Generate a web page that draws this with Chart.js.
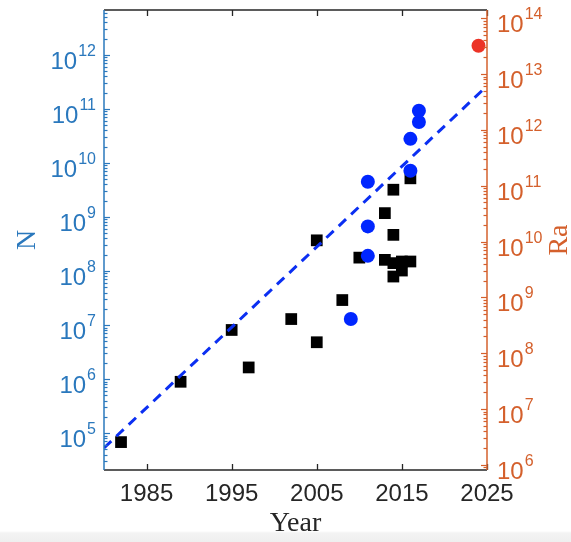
<!DOCTYPE html>
<html>
<head>
<meta charset="utf-8">
<script src="https://cdn.jsdelivr.net/npm/chart.js@4.4.1/dist/chart.umd.min.js"></script>
<style>
  html, body { margin: 0; padding: 0; }
  body { width: 571px; height: 542px; overflow: hidden;
         background: linear-gradient(to bottom, #ffffff 0px, #ffffff 531px, #f3f3f3 533px, #efefef 542px); }
  #wrap { width: 571px; height: 542px; }
</style>
</head>
<body>
<div id="wrap"><canvas id="myChart" width="571" height="542"></canvas></div>
<script>
// black squares (N, left axis)
var squareYears = [1982, 1989, 1995, 1997, 2002, 2005, 2005, 2008, 2010, 2013, 2013, 2014, 2014, 2014, 2014, 2015, 2015, 2016, 2016];
var squareN     = [6.8e4, 8.9e5, 8.1e6, 1.64e6, 1.29e7, 4.8e6, 3.7e8, 2.9e7, 1.77e8, 1.61e8, 1.18e9, 1.40e8, 7.9e7, 4.67e8, 3.2e9, 1.50e8, 1.02e8, 1.50e8, 5.2e9];

// blue circles (N, left axis)
var circleYears = [2009, 2011, 2011, 2011, 2016, 2016, 2017, 2017];
var circleN     = [1.29e7, 1.91e8, 6.7e8, 4.5e9, 7.2e9, 2.8e10, 5.75e10, 9.3e10];

// red circle (Ra, right axis)
var redYears = [2024];
var redRa    = [3.2e13];

// dashed trend line
var fitYears = [1980, 2025];
var fitN     = [5.3e4, 2.67e11];

// tick labels
var yearTicks = [1985, 1995, 2005, 2015, 2025];
var leftExps  = [5, 6, 7, 8, 9, 10, 11, 12];
var rightExps = [6, 7, 8, 9, 10, 11, 12, 13, 14];

var blue = '#2a78bd';
var orange = '#d4602c';
var dark = '#262626';

function pts(xs, ys) {
    return xs.map(function (x, i) { return { x: x, y: ys[i] }; });
}

function drawLogTicks(ctx, scale, x, dir) {
    var lo = Math.floor(Math.log10(scale.min));
    var hi = Math.ceil(Math.log10(scale.max));
    for (var e = lo; e <= hi; e++) {
        for (var k = 1; k <= 9; k++) {
            var v = k * Math.pow(10, e);
            if (v < scale.min || v > scale.max) continue;
            var y = Math.round(scale.getPixelForValue(v)) + 0.5;
            var len = k === 1 ? 6 : 3.5;
            ctx.beginPath();
            ctx.moveTo(x, y);
            ctx.lineTo(x + dir * len, y);
            ctx.stroke();
        }
    }
}

function drawExpLabel(ctx, e, x, y, side) {
    var baseFont = '24px "Liberation Sans", Arial, sans-serif';
    var supFont = '16px "Liberation Sans", Arial, sans-serif';
    ctx.font = baseFont;
    var wb = ctx.measureText('10').width;
    ctx.font = supFont;
    var ws = ctx.measureText(String(e)).width;
    var x0 = side === 'left' ? x - ws - wb - 1 : x;
    ctx.textAlign = 'left';
    ctx.textBaseline = 'alphabetic';
    ctx.font = baseFont;
    ctx.fillText('10', x0, y + 14);
    ctx.font = supFont;
    ctx.fillText(String(e), x0 + wb + 1, y + 1);
}

// matlab style box, inward ticks and 10^n labels
var axesPlugin = {
    id: 'matlabAxes',
    afterDraw: function (chart) {
        var ctx = chart.ctx;
        var a = chart.chartArea;
        var sx = chart.scales.x, sy = chart.scales.y, sy2 = chart.scales.y2;
        ctx.save();

        // top / bottom lines and year ticks
        ctx.strokeStyle = dark;
        ctx.lineWidth = 1.3;
        ctx.beginPath();
        ctx.moveTo(a.left, a.bottom); ctx.lineTo(a.right, a.bottom);
        ctx.moveTo(a.left, a.top); ctx.lineTo(a.right, a.top);
        ctx.stroke();
        yearTicks.forEach(function (yr) {
            var px = Math.round(sx.getPixelForValue(yr)) + 0.5;
            ctx.beginPath();
            ctx.moveTo(px, a.bottom); ctx.lineTo(px, a.bottom - 6);
            ctx.moveTo(px, a.top); ctx.lineTo(px, a.top + 6);
            ctx.stroke();
        });

        // left axis
        ctx.strokeStyle = blue;
        ctx.fillStyle = blue;
        ctx.lineWidth = 1.5;
        ctx.beginPath();
        ctx.moveTo(a.left, a.top); ctx.lineTo(a.left, a.bottom);
        ctx.stroke();
        ctx.lineWidth = 1.2;
        drawLogTicks(ctx, sy, a.left, 1);
        leftExps.forEach(function (e) {
            drawExpLabel(ctx, e, a.left - 8, sy.getPixelForValue(Math.pow(10, e)), 'left');
        });

        // right axis
        ctx.strokeStyle = orange;
        ctx.fillStyle = orange;
        ctx.lineWidth = 1.5;
        ctx.beginPath();
        ctx.moveTo(a.right, a.top); ctx.lineTo(a.right, a.bottom);
        ctx.stroke();
        ctx.lineWidth = 1.2;
        drawLogTicks(ctx, sy2, a.right, -1);
        rightExps.forEach(function (e) {
            drawExpLabel(ctx, e, a.right + 10, sy2.getPixelForValue(Math.pow(10, e)), 'right');
        });

        // right axis title
        ctx.translate(560, (a.top + a.bottom) / 2);
        ctx.rotate(-Math.PI / 2);
        ctx.textAlign = 'center';
        ctx.textBaseline = 'middle';
        ctx.font = '28px "Liberation Serif", "Times New Roman", serif';
        ctx.fillText('Ra', 0, 0);
        ctx.restore();
    }
};

var ctx = document.getElementById('myChart').getContext('2d');
var myChart = new Chart(ctx, {
    type: 'scatter',
    data: {
        datasets: [{
            label: 'red',
            data: pts(redYears, redRa),
            yAxisID: 'y2',
            pointStyle: 'circle',
            pointRadius: 7,
            backgroundColor: '#ec3326',
            borderWidth: 0,
            order: 0
        }, {
            label: 'fit',
            data: pts(fitYears, fitN),
            yAxisID: 'y',
            showLine: true,
            borderColor: '#0b2ff2',
            borderWidth: 3,
            borderDash: [10, 7],
            pointRadius: 0,
            fill: false,
            order: 1
        }, {
            label: 'circles',
            data: pts(circleYears, circleN),
            yAxisID: 'y',
            pointStyle: 'circle',
            pointRadius: 7,
            backgroundColor: '#0026ff',
            borderWidth: 0,
            order: 2
        }, {
            label: 'squares',
            data: pts(squareYears, squareN),
            yAxisID: 'y',
            pointStyle: 'rect',
            pointRadius: 8.3,
            backgroundColor: '#000000',
            borderWidth: 0,
            order: 3
        }]
    },
    options: {
        responsive: false,
        animation: false,
        layout: { padding: { top: 10, left: 0, right: 0, bottom: 0 } },
        plugins: {
            legend: { display: false },
            tooltip: { enabled: false }
        },
        scales: {
            x: {
                type: 'linear',
                min: 1980,
                max: 2025,
                afterFit: function (s) { s.height = 72; },
                afterBuildTicks: function (s) {
                    s.ticks = yearTicks.map(function (v) { return { value: v }; });
                },
                grid: { display: false, drawTicks: false },
                border: { display: false },
                ticks: {
                    color: dark,
                    font: { family: 'Liberation Sans', size: 24 },
                    padding: 10,
                    maxRotation: 0,
                    autoSkip: false,
                    callback: function (v) { return String(v); }
                },
                title: {
                    display: true,
                    text: 'Year',
                    color: dark,
                    font: { family: 'Liberation Serif', size: 28 },
                    padding: { top: 0, bottom: 2 }
                }
            },
            y: {
                type: 'logarithmic',
                position: 'left',
                min: 2.07e4,
                max: 6.8e12,
                afterFit: function (s) { s.width = 104; },
                grid: { display: false },
                border: { display: false },
                ticks: { display: false },
                title: {
                    display: true,
                    text: 'N',
                    color: blue,
                    font: { family: 'Liberation Serif', size: 28 },
                    padding: { top: 11, bottom: 0 }
                }
            },
            y2: {
                type: 'logarithmic',
                position: 'right',
                min: 8.1e5,
                max: 1.4e14,
                afterFit: function (s) { s.width = 84; },
                grid: { display: false },
                border: { display: false },
                ticks: { display: false }
            }
        }
    },
    plugins: [axesPlugin]
});
</script>
</body>
</html>
